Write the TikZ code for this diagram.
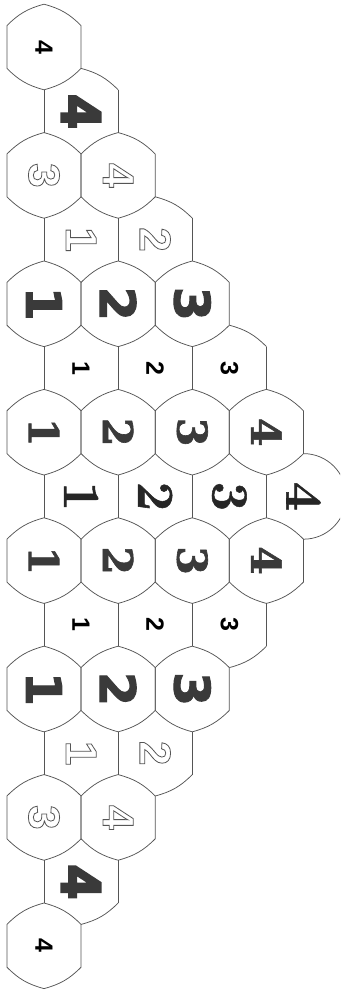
\documentclass[tikz,border=0pt]{standalone}
\usepackage{fontspec}
\newfontfamily\lsans{Liberation Sans}
\newfontfamily\lsansheavy{Liberation Sans}[BoldFeatures={FakeBold=6}]
\newfontfamily\dsansheavy{DejaVu Sans}[BoldFeatures={FakeBold=2}]
\newfontfamily\dserifb{DejaVu Serif}[BoldFeatures={FakeBold=1.5}]
\newfontfamily\lmbold{Latin Modern Roman}[BoldFeatures={FakeBold=1}]
\newcommand\outlinetxt[1]{\special{pdf:literal direct 1 Tr 0.8 w}#1\special{pdf:literal direct 0 Tr}}
\definecolor{edge}{HTML}{555555}
\definecolor{ink}{HTML}{3A3A3A}
\tikzset{
  cellline/.style={draw=edge, line width=0.75pt, line join=round},
  bnd/.style={bend left=15},
  digit/.style={inner sep=0pt, rotate=-90, anchor=center},
  smalld/.style={digit, text=black, font=\lsans\bfseries\fontsize{25}{25}\selectfont},
  blockd/.style={digit, text=ink, font=\lsansheavy\bfseries\fontsize{55}{55}\selectfont},
  outd/.style={digit, text=edge, font=\lsans\bfseries\fontsize{44}{44}\selectfont},
  heavyd/.style={digit, text=ink, font=\dsansheavy\bfseries\fontsize{49}{49}\selectfont},
  slabd/.style={digit, text=ink, font=\dserifb\bfseries\fontsize{41}{41}\selectfont},
  fancyd/.style={digit, text=black!85, font=\lmbold\bfseries\fontsize{52}{52}\selectfont}
}
\begin{document}
\begin{tikzpicture}[x=1pt,y=1pt]
\fill[white] (0,0) rectangle (340,-993);
\useasboundingbox (0,0) rectangle (340,-993);
\begin{scope}
\clip (0,0) rectangle (340,-993);
\foreach \r/\n in {0/1,1/1,2/2,3/2,4/3,5/3,6/4,7/4,8/4,9/3,10/3,11/2,12/2,13/1,14/1}{
  \pgfmathtruncatemacro\odd{mod(\r,2)}
  \pgfmathtruncatemacro\m{\n-1}
  \foreach \k in {0,...,\m}{
    \pgfmathsetmacro\cx{44+74.14*\k+37.07*\odd}
    \pgfmathsetmacro\cy{-(47+64.2*\r)}
    \pgfmathsetmacro\xl{\cx-37.07}
    \pgfmathsetmacro\xr{\cx+37.07}
    \pgfmathsetmacro\yt{\cy+42.8}
    \pgfmathsetmacro\yb{\cy-42.8}
    \pgfmathsetmacro\yu{\cy+21.4}
    \pgfmathsetmacro\yd{\cy-21.4}
    \coordinate (c-\r-\k) at (\cx,\cy);
    \ifnum\odd=0
      \draw[cellline] (\cx,\yt) to[bnd] (\xr,\yu) -- (\xr,\yd) to[bnd] (\cx,\yb)
        to[bnd] (\xl,\yd) -- (\xl,\yu) to[bnd] (\cx,\yt) -- cycle;
    \else
      \draw[cellline] (\xl,\yu) -- (\xl,\yd);
      \ifnum\r=7 \ifnum\k=3
        \draw[cellline] (\cx,\yt) arc[start angle=90,end angle=-90,radius=42.8pt];
      \else
        \draw[cellline] (\xr,\yu) -- (\xr,\yd);
      \fi \else
        \draw[cellline] (\xr,\yu) -- (\xr,\yd);
      \fi
      \ifnum\k=\m
        \ifnum\r<7
          \draw[cellline] (\cx,\yt) to[bnd] (\xr,\yu);
        \fi
        \ifnum\r>7
          \draw[cellline] (\xr,\yd) to[bnd] (\cx,\yb);
        \fi
      \fi
    \fi
  }
}
\end{scope}
% digits
\node[smalld] (d-0-0) at (c-0-0) {4};
\node[blockd] (d-1-0) at (c-1-0) {4};
\node[outd] (d-2-0) at (c-2-0) {\outlinetxt{3}};
\node[outd] (d-2-1) at (c-2-1) {\outlinetxt{4}};
\node[outd] (d-3-0) at (c-3-0) {\outlinetxt{1}};
\node[outd] (d-3-1) at (c-3-1) {\outlinetxt{2}};
\node[heavyd] (d-4-0) at (c-4-0) {1};
\node[heavyd] (d-4-1) at (c-4-1) {2};
\node[heavyd] (d-4-2) at (c-4-2) {3};
\node[smalld] (d-5-0) at (c-5-0) {1};
\node[smalld] (d-5-1) at (c-5-1) {2};
\node[smalld] (d-5-2) at (c-5-2) {3};
\node[slabd] (d-6-0) at (c-6-0) {1};
\node[slabd] (d-6-1) at (c-6-1) {2};
\node[slabd] (d-6-2) at (c-6-2) {3};
\node[slabd] (d-6-3) at (c-6-3) {4};
\node[fancyd] (d-7-0) at (c-7-0) {1};
\node[fancyd] (d-7-1) at (c-7-1) {2};
\node[fancyd] (d-7-2) at (c-7-2) {3};
\node[fancyd] (d-7-3) at (c-7-3) {4};
\node[slabd] (d-8-0) at (c-8-0) {1};
\node[slabd] (d-8-1) at (c-8-1) {2};
\node[slabd] (d-8-2) at (c-8-2) {3};
\node[slabd] (d-8-3) at (c-8-3) {4};
\node[smalld] (d-9-0) at (c-9-0) {1};
\node[smalld] (d-9-1) at (c-9-1) {2};
\node[smalld] (d-9-2) at (c-9-2) {3};
\node[heavyd] (d-10-0) at (c-10-0) {1};
\node[heavyd] (d-10-1) at (c-10-1) {2};
\node[heavyd] (d-10-2) at (c-10-2) {3};
\node[outd] (d-11-0) at (c-11-0) {\outlinetxt{1}};
\node[outd] (d-11-1) at (c-11-1) {\outlinetxt{2}};
\node[outd] (d-12-0) at (c-12-0) {\outlinetxt{3}};
\node[outd] (d-12-1) at (c-12-1) {\outlinetxt{4}};
\node[blockd] (d-13-0) at (c-13-0) {4};
\node[smalld] (d-14-0) at (c-14-0) {4};
\end{tikzpicture}
\end{document}
